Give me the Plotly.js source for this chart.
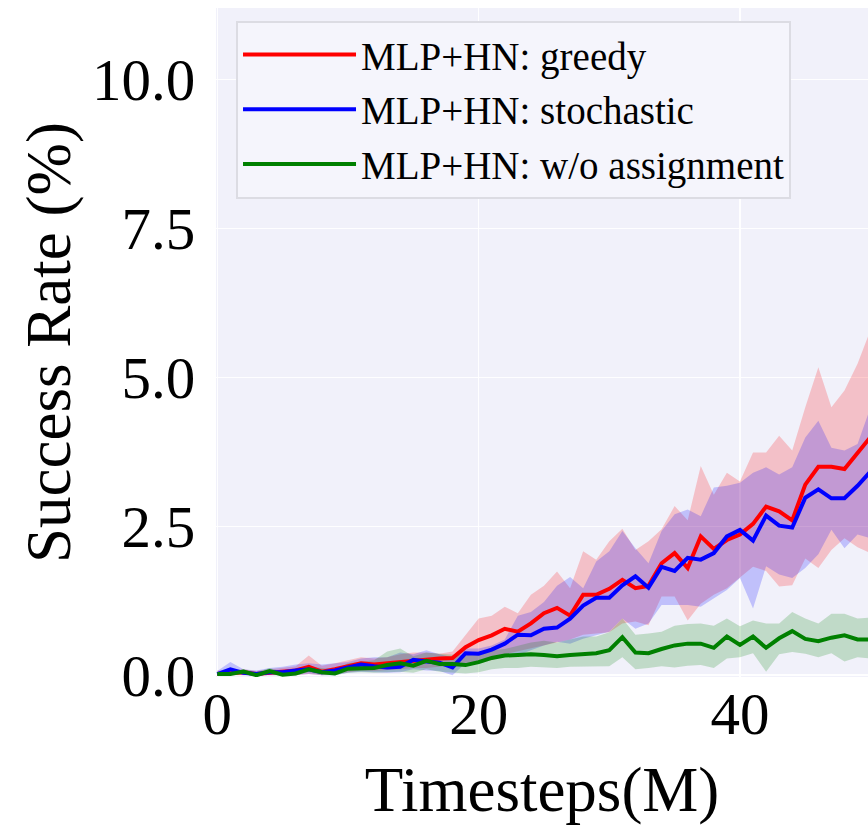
<!DOCTYPE html>
<html>
<head>
<meta charset="utf-8">
<script src="https://cdn.plot.ly/plotly-3.0.1.min.js"></script>
<style>
  html, body { margin: 0; padding: 0; background: #ffffff; }
  #chart { width: 868px; height: 825px; }
</style>
</head>
<body>
<div id="chart"></div>
<script>
// Timesteps (M)
const timesteps = [0,1,2,3,4,5,6,7,8,9,10,11,12,13,14,15,16,17,18,19,20,21,22,23,24,25,26,27,28,29,30,31,32,33,34,35,36,37,38,39,40,41,42,43,44,45,46,47,48,49,50];

const seriesNames = ["MLP+HN: greedy", "MLP+HN: stochastic", "MLP+HN: w/o assignment"];

// MLP+HN: greedy
const greedyMean = [0.02,0.03,0.05,0.02,0.04,0.05,0.08,0.14,0.06,0.1,0.15,0.2,0.18,0.2,0.22,0.25,0.26,0.28,0.29,0.47,0.59,0.67,0.78,0.73,0.87,1.04,1.13,1.0,1.35,1.35,1.45,1.6,1.46,1.5,1.88,2.05,1.8,2.33,2.12,2.27,2.36,2.54,2.83,2.75,2.6,3.2,3.5,3.5,3.46,3.74,4.0];
const greedyUpper = [0.08,0.08,0.1,0.07,0.1,0.12,0.15,0.33,0.16,0.2,0.25,0.3,0.28,0.3,0.35,0.38,0.38,0.36,0.4,0.67,0.95,1.0,1.15,1.04,1.35,1.5,1.74,1.46,2.08,1.94,2.25,2.46,2.1,2.25,2.45,2.84,2.6,3.51,3.03,3.4,3.25,3.74,3.74,4.02,3.77,4.5,5.17,4.5,4.78,5.23,5.8];
const greedyLower = [0,0,0,0,0,0,0,0.02,0,0.02,0.05,0.08,0.07,0.08,0.1,0.12,0.12,0.14,0.15,0.15,0.2,0.25,0.35,0.4,0.45,0.5,0.55,0.6,0.68,0.7,0.72,0.87,0.9,0.84,1.32,1.32,0.92,1.2,1.35,1.46,1.64,1.82,1.75,1.49,1.51,1.96,1.8,2.1,2.3,2.15,2.05];

// MLP+HN: stochastic
const stochMean = [0.02,0.1,0.04,0.02,0.05,0.05,0.08,0.1,0.05,0.08,0.13,0.18,0.15,0.13,0.14,0.26,0.23,0.21,0.13,0.37,0.36,0.43,0.53,0.68,0.67,0.78,0.8,0.95,1.17,1.3,1.3,1.51,1.66,1.47,1.82,1.75,1.97,1.94,2.05,2.33,2.44,2.26,2.68,2.51,2.48,2.98,3.12,2.97,2.97,3.18,3.42];
const stochUpper = [0.07,0.22,0.1,0.08,0.12,0.14,0.18,0.2,0.18,0.2,0.22,0.28,0.3,0.3,0.38,0.35,0.42,0.35,0.3,0.45,0.45,0.5,0.6,1.0,1.06,1.23,1.5,1.65,1.46,1.91,2.08,2.42,2.13,1.88,2.42,2.7,2.78,2.67,3.15,3.18,3.23,3.4,3.49,3.37,3.49,3.99,4.27,3.82,3.77,3.88,4.5];
const stochLower = [0,0.02,0,0,0,0,0,0.02,0,0,0.04,0.06,0.05,0.04,0.05,0.1,0.08,0.07,0.0,0.2,0.22,0.3,0.33,0.33,0.42,0.5,0.56,0.53,0.61,0.67,0.73,0.95,0.78,0.87,1.18,1.18,1.18,1.15,1.29,1.43,1.63,1.12,1.83,1.69,1.63,1.8,2.03,2.44,2.13,2.36,2.3];

// MLP+HN: w/o assignment
const woMean = [0.02,0.02,0.06,0.0,0.07,0.01,0.03,0.1,0.05,0.03,0.11,0.12,0.12,0.17,0.2,0.16,0.24,0.19,0.19,0.17,0.22,0.29,0.33,0.34,0.35,0.34,0.32,0.34,0.35,0.37,0.42,0.64,0.38,0.37,0.44,0.5,0.53,0.53,0.46,0.65,0.51,0.65,0.46,0.62,0.74,0.61,0.57,0.63,0.67,0.6,0.6];
const woUpper = [0.06,0.06,0.1,0.05,0.12,0.06,0.08,0.15,0.12,0.1,0.2,0.22,0.25,0.4,0.45,0.32,0.38,0.36,0.34,0.33,0.38,0.42,0.44,0.5,0.55,0.58,0.55,0.6,0.65,0.65,0.72,0.95,0.68,0.7,0.73,0.83,0.86,0.87,0.83,0.95,0.82,0.92,0.87,0.87,1.06,0.95,0.87,1.03,1.03,0.95,0.97];
const woLower = [0,0,0.02,0,0.02,0,0,0.05,0,0,0.04,0.05,0.04,0.05,0.06,0.04,0.1,0.06,0.05,0.03,0.05,0.1,0.12,0.12,0.14,0.13,0.12,0.14,0.14,0.15,0.15,0.3,0.1,0.12,0.15,0.13,0.16,0.17,0.12,0.28,0.3,0.37,0.06,0.35,0.39,0.36,0.3,0.37,0.23,0.3,0.28];

const yTickVals = [0, 2.5, 5, 7.5, 10];
const yTickText = ["0.0", "2.5", "5.0", "7.5", "10.0"];
const xTickVals = [0, 20, 40];
const xTickText = ["0", "20", "40"];

const lineColors = ["#ff0000", "#0000ff", "#008000"];
const bandColors = ["rgba(255,0,0,0.2)", "rgba(0,0,255,0.2)", "rgba(0,128,0,0.2)"];

const means = [greedyMean, stochMean, woMean];
const uppers = [greedyUpper, stochUpper, woUpper];
const lowers = [greedyLower, stochLower, woLower];

const traces = [];
for (let i = 0; i < 3; i++) {
  traces.push({
    x: timesteps, y: lowers[i], type: 'scatter', mode: 'lines',
    line: { width: 0, color: bandColors[i] }, showlegend: false, hoverinfo: 'skip'
  });
  traces.push({
    x: timesteps, y: uppers[i], type: 'scatter', mode: 'lines',
    line: { width: 0, color: bandColors[i] }, fill: 'tonexty', fillcolor: bandColors[i],
    showlegend: false, hoverinfo: 'skip'
  });
}
for (let i = 0; i < 3; i++) {
  traces.push({
    x: timesteps, y: means[i], type: 'scatter', mode: 'lines', name: seriesNames[i],
    legendgroup: 'g' + i,
    line: { width: 4, color: lineColors[i] }
  });
}

const FONT = "Liberation Serif, Times New Roman, serif";

const layout = {
  width: 868, height: 825,
  margin: { l: 216, r: 0, t: 8, b: 148, pad: 0 },
  paper_bgcolor: '#ffffff',
  plot_bgcolor: '#f1f1fa',
  font: { family: FONT, color: '#000000' },
  showlegend: true,
  legend: {
    x: 0.0307, y: 0.981, xanchor: 'left', yanchor: 'top',
    bgcolor: '#f5f5fc', bordercolor: '#dcdce3', borderwidth: 2,
    font: { family: FONT, size: 39, color: '#000000' },
    itemwidth: 113, tracegroupgap: 1
  },
  xaxis: {
    range: [-0.1, 49.8],
    tickmode: 'array', tickvals: xTickVals, ticktext: xTickText,
    ticks: '', ticklabelstandoff: -3,
    tickfont: { family: FONT, size: 59, color: '#000000' },
    showgrid: true, gridcolor: 'rgba(255,255,255,0.9)', gridwidth: 1.5,
    zeroline: false, showline: false,
    title: { text: 'Timesteps(M)', font: { family: FONT, size: 63, color: '#000000' }, standoff: 23 }
  },
  yaxis: {
    range: [-0.03, 11.2],
    tickmode: 'array', tickvals: yTickVals, ticktext: yTickText,
    ticks: 'outside', ticklen: 8, tickcolor: 'rgba(0,0,0,0)',
    tickfont: { family: FONT, size: 59, color: '#000000' },
    showgrid: true, gridcolor: 'rgba(255,255,255,0.9)', gridwidth: 1.5,
    zeroline: false, showline: false,
    title: { text: 'Success Rate (%)', font: { family: FONT, size: 63, color: '#000000' }, standoff: 0 }
  }
};

Plotly.newPlot('chart', traces, layout, { displayModeBar: false, staticPlot: true });
</script>
</body>
</html>
